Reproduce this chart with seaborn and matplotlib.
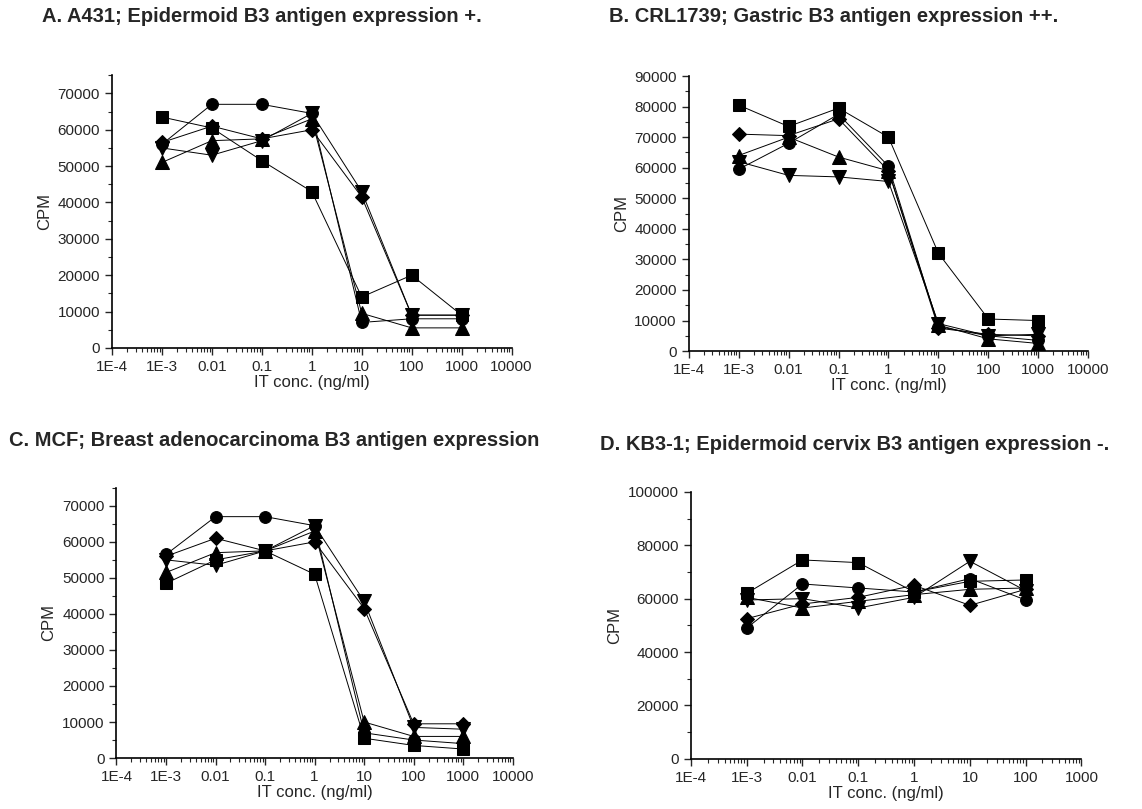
import numpy as np
import pandas as pd
import seaborn as sns
import matplotlib.pyplot as plt
from matplotlib.ticker import LogLocator, MultipleLocator, NullFormatter

conc = [1e-3, 0.01, 0.1, 1, 10, 100, 1000]
conc_d = [1e-3, 0.01, 0.1, 1, 10, 100]
series = ['square', 'circle', 'up', 'down', 'diamond']

# panel A
a_square = [63500, 60500, 51500, 43000, 14000, 20000, 9000]
a_circle = [56000, 67000, 67000, 64500, 7000, 8000, 8000]
a_up = [51000, 57000, 57500, 63000, 9500, 5500, 5500]
a_down = [55000, 53000, 57000, 64500, 43000, 9000, 9000]
a_diamond = [56500, 61000, 57500, 60000, 41500, 9000, 9000]

# panel B
b_square = [80500, 73500, 79500, 70000, 32000, 10500, 10000]
b_circle = [59500, 68000, 77500, 60500, 8000, 5000, 3500]
b_up = [64000, 70000, 63500, 59000, 8500, 4000, 2500]
b_down = [62000, 57500, 57000, 55500, 9000, 5000, 5500]
b_diamond = [71000, 70500, 76000, 59000, 7500, 5500, 5000]

# panel C
c_square = [48500, 55000, 57500, 51000, 5500, 3500, 2500]
c_circle = [56500, 67000, 67000, 64500, 7000, 5000, 4000]
c_up = [51500, 57000, 57500, 63000, 10000, 6000, 6000]
c_down = [55000, 53500, 57500, 64500, 43500, 8500, 8000]
c_diamond = [56000, 61000, 57500, 60000, 41500, 9500, 9500]

# panel D
d_square = [62000, 74500, 73500, 62500, 66500, 67000]
d_circle = [49000, 65500, 64000, 62500, 67500, 59500]
d_up = [60500, 56500, 59000, 61500, 63500, 64000]
d_down = [59500, 60000, 56500, 60500, 74000, 63000]
d_diamond = [52500, 58000, 60500, 65000, 57500, 63500]

xlabels = ['1E-4', '1E-3', '0.01', '0.1', '1', '10', '100', '1000', '10000']

titles = ['A. A431; Epidermoid B3 antigen expression +.',
          'B. CRL1739; Gastric B3 antigen expression ++.',
          'C. MCF; Breast adenocarcinoma B3 antigen expression',
          'D. KB3-1; Epidermoid cervix B3 antigen expression -.']

sns.set_style('ticks')
plt.rcParams['font.family'] = ['Liberation Sans', 'DejaVu Sans']

markers = {'square': 's', 'circle': 'o', 'up': '^', 'down': 'v', 'diamond': 'D'}
sizes = {'square': 8, 'circle': 8.5, 'up': 10, 'down': 10, 'diamond': 7.5}


def make_df(x, vals):
    rows = []
    for name, v in zip(series, vals):
        for xi, yi in zip(x, v):
            rows.append({'conc': xi, 'cpm': yi, 'series': name})
    return pd.DataFrame(rows)


panels = [
    (conc, [a_square, a_circle, a_up, a_down, a_diamond], [0.098, 0.570, 0.350, 0.337], 75000, 10000, 5000, 1e4),
    (conc, [b_square, b_circle, b_up, b_down, b_diamond], [0.603, 0.566, 0.350, 0.340], 90000, 10000, 5000, 1e4),
    (conc, [c_square, c_circle, c_up, c_down, c_diamond], [0.102, 0.063, 0.347, 0.334], 75000, 10000, 5000, 1e4),
    (conc_d, [d_square, d_circle, d_up, d_down, d_diamond], [0.605, 0.062, 0.342, 0.330], 100000, 20000, 10000, 1e3),
]
title_pos = [(0.229, 0.979), (0.730, 0.979), (0.240, 0.456), (0.748, 0.450)]

fig = plt.figure(figsize=(11.42, 8.09), dpi=100)
for i, (x, vals, rect, ytop, ymaj, ymin, xmax) in enumerate(panels):
    ax = fig.add_axes(rect)
    df = make_df(x, vals)
    for name in series:
        sub = df[df['series'] == name]
        sns.lineplot(data=sub, x='conc', y='cpm', ax=ax, color='black',
                     marker=markers[name], markersize=sizes[name],
                     markeredgecolor='black', linewidth=0.7, legend=False)
    ax.set_xscale('log')
    ax.set_xlim(1e-4, xmax)
    ax.set_ylim(0, ytop)
    ticks = [10.0 ** k for k in range(-4, int(np.log10(xmax)) + 1)]
    ax.set_xticks(ticks)
    ax.set_xticklabels(xlabels[:len(ticks)], fontsize=11)
    ax.xaxis.set_minor_locator(LogLocator(base=10, subs=np.arange(2, 10), numticks=20))
    ax.xaxis.set_minor_formatter(NullFormatter())
    ax.yaxis.set_major_locator(MultipleLocator(ymaj))
    ax.yaxis.set_minor_locator(MultipleLocator(ymin))
    ax.tick_params(axis='both', which='major', length=5, width=1, labelsize=11, direction='out')
    ax.tick_params(axis='both', which='minor', length=3, width=0.8, direction='out')
    for s in ['left', 'bottom']:
        ax.spines[s].set_linewidth(1.2)
        ax.spines[s].set_color('black')
    sns.despine(ax=ax)
    ax.set_xlabel('IT conc. (ng/ml)', fontsize=12, labelpad=1)
    ax.set_ylabel('CPM', fontsize=12)
    fig.text(title_pos[i][0], title_pos[i][1], titles[i], ha='center', va='center',
             fontsize=14.5, fontweight='bold')

fig.savefig('out.png', dpi=100)
